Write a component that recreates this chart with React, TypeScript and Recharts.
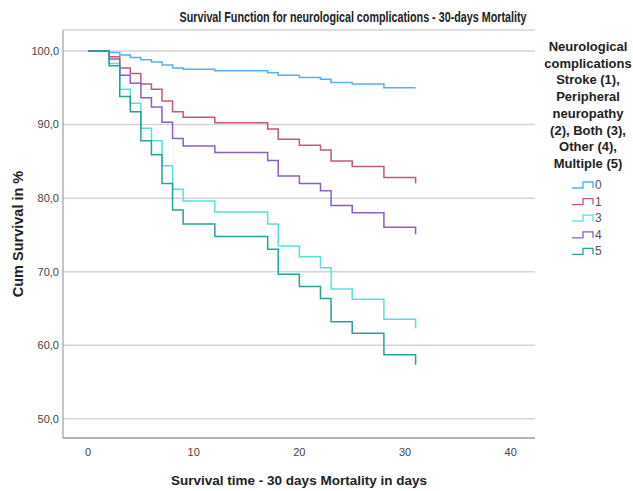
import { LineChart, Line, XAxis, YAxis, CartesianGrid, Legend } from 'recharts'

// Kaplan-Meier survival (%) by neurological complication group, 30-day follow-up
const days = [0, 2, 3, 4, 5, 6, 7, 8, 9, 12, 17, 18, 20, 22, 23, 25, 28, 31]
const group0 = [100, 99.8, 99.45, 99.1, 98.8, 98.5, 98.1, 97.7, 97.5, 97.3, 97.05, 96.7, 96.4, 96.15, 95.7, 95.5, 95.0, 95.0]
const group1 = [100, 99.2, 97.7, 96.95, 95.5, 94.8, 93.2, 91.75, 91.0, 90.25, 89.4, 88.0, 87.2, 86.55, 85.05, 84.3, 82.8, 82.0]
const group3 = [100, 98.3, 94.8, 92.9, 89.5, 87.8, 84.4, 81.2, 79.6, 78.1, 76.5, 73.5, 72.05, 70.55, 67.65, 66.25, 63.55, 62.3]
const group4 = [100, 98.9, 96.7, 95.6, 93.65, 92.4, 90.3, 88.1, 87.1, 86.2, 85.1, 83.0, 82.0, 81.0, 79.0, 78.0, 76.05, 75.1]
const group5 = [100, 98.0, 93.8, 91.75, 87.8, 85.9, 82.0, 78.4, 76.5, 74.8, 73.05, 69.65, 68.0, 66.35, 63.2, 61.65, 58.7, 57.35]

const yTicks = [50, 60, 70, 80, 90, 100]
const xTicks = [0, 10, 20, 30, 40]

const legendTitle = [
  'Neurological',
  'complications',
  'Stroke (1),',
  'Peripheral',
  'neuropathy',
  '(2), Both (3),',
  'Other (4),',
  'Multiple (5)',
]

const series = [
  { key: 'g0', name: '0', values: group0, color: '#52b0f5' },
  { key: 'g1', name: '1', values: group1, color: '#c2587f' },
  { key: 'g3', name: '3', values: group3, color: '#55e2df' },
  { key: 'g4', name: '4', values: group4, color: '#8a5fc8' },
  { key: 'g5', name: '5', values: group5, color: '#28a298' },
]

const data = days.map((t, i) => {
  const row: Record<string, number> = { t }
  series.forEach((s) => {
    row[s.key] = s.values[i]
  })
  return row
})

const FONT = "'Liberation Sans', Arial, sans-serif"
const LEGEND_W = 93

function StepLegend() {
  return (
    <svg width={LEGEND_W} height={240} style={{ display: 'block' }}>
      {legendTitle.map((line, i) => (
        <text
          key={line}
          x={48}
          y={21 + i * 16.7}
          textAnchor="middle"
          fontFamily={FONT}
          fontSize={13}
          fontWeight="bold"
          fill="#222"
        >
          {line}
        </text>
      ))}
      {series.map((s, i) => {
        const cy = 155 + i * 16.6
        return (
          <g key={s.key}>
            <path
              d={`M32,${cy + 3} H43 V${cy - 3} H53 V${cy + 3}`}
              fill="none"
              stroke={s.color}
              strokeWidth={1.3}
            />
            <text x={55} y={cy + 4} fontFamily={FONT} fontSize={12} fill="#555">
              {s.name}
            </text>
          </g>
        )
      })}
    </svg>
  )
}

export default function App() {
  return (
    <div style={{ position: 'absolute', left: 0, top: 0, width: 633, height: 491, background: '#fff' }}>
      <svg width={633} height={30} style={{ position: 'absolute', left: 0, top: 0 }}>
        <text
          x={353}
          y={22}
          textAnchor="middle"
          fontFamily={FONT}
          fontSize={14}
          fontWeight="bold"
          fill="#222"
          textLength={347}
          lengthAdjust="spacingAndGlyphs"
        >
          Survival Function for neurological complications - 30-days Mortality
        </text>
      </svg>
      <LineChart
        width={633}
        height={491}
        data={data}
        margin={{ top: 30, right: 98 - LEGEND_W, bottom: 23, left: 8 }}
      >
        <CartesianGrid vertical={false} stroke="#d5d5d5" strokeWidth={1.5} />
        <XAxis
          dataKey="t"
          type="number"
          domain={[-2.37, 42.3]}
          ticks={xTicks}
          allowDataOverflow
          tickLine={false}
          tickSize={4}
          tickMargin={6}
          stroke="#8c8c8c"
          tick={{ fill: '#444', fontSize: 11, fontFamily: FONT }}
          height={30}
          label={{
            value: 'Survival time - 30 days Mortality in days',
            position: 'bottom',
            offset: 7,
            style: { fontFamily: FONT, fontSize: 13.5, fontWeight: 'bold', fill: '#222' },
          }}
        />
        <YAxis
          type="number"
          domain={[47.4, 102.85]}
          ticks={yTicks}
          allowDataOverflow
          width={55}
          tickLine={false}
          tickSize={2}
          tickMargin={2}
          stroke="#8c8c8c"
          tick={{ fill: '#444', fontSize: 11, fontFamily: FONT }}
          tickFormatter={(v: number) => v.toFixed(1).replace('.', ',')}
          label={{
            value: 'Cum Survival in %',
            angle: -90,
            position: 'insideLeft',
            content: () => (
              <text
                x={19}
                y={234}
                transform="rotate(-90, 19, 234)"
                textAnchor="middle"
                dominantBaseline="middle"
                fontFamily={FONT}
                fontSize={14.5}
                fontWeight="bold"
                fill="#222"
              >
                Cum Survival in %
              </text>
            ),
          }}
        />
        <Legend
          verticalAlign="top"
          align="right"
          layout="vertical"
          width={LEGEND_W}
          wrapperStyle={{ position: 'absolute', left: 540, top: 30, width: LEGEND_W }}
          content={() => <StepLegend />}
        />
        {series.map((s) => (
          <Line
            key={s.key}
            type="stepAfter"
            dataKey={s.key}
            name={s.name}
            stroke={s.color}
            strokeWidth={1.5}
            dot={false}
            activeDot={false}
            isAnimationActive={false}
          />
        ))}
      </LineChart>
    </div>
  )
}
